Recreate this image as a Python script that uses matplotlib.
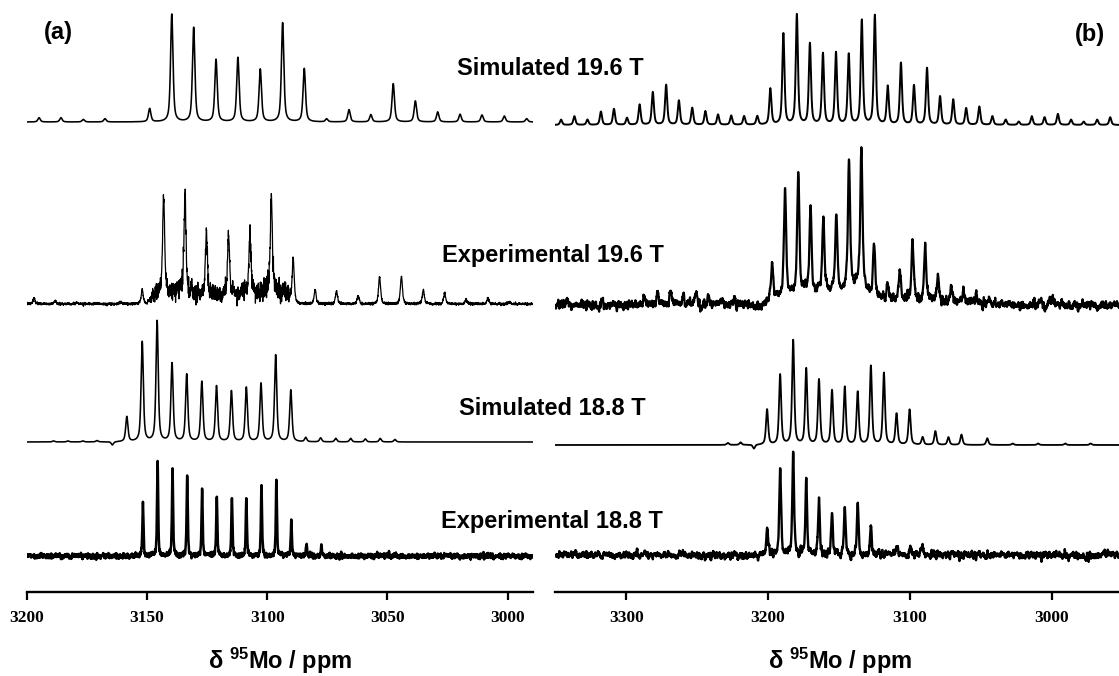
import numpy as np
import matplotlib
matplotlib.use("Agg")
import matplotlib.pyplot as plt

plt.rcParams['font.family'] = ['Liberation Sans', 'DejaVu Sans']
plt.rcParams['mathtext.fontset'] = 'custom'
plt.rcParams['mathtext.bf'] = 'Liberation Sans:bold'
plt.rcParams['mathtext.default'] = 'bf'

# ---------------- dados (ppm / intensidade relativa) ----------------
# (a) espectro esquerdo
a_sim196_ppm = [3194.9, 3185.8, 3176.5, 3167.5, 3148.9, 3139.7, 3130.6, 3121.3, 3112.2, 3102.9,
                3093.6, 3084.6, 3075.3, 3066.0, 3056.9, 3047.6, 3038.4, 3029.1, 3019.8, 3010.7,
                3001.4, 2992.1]
a_sim196_int = [4.3, 4.3, 2.5, 3.3, 13.3, 107.7, 94.3, 62.3, 64.3, 52.7,
                99, 53.3, 3, 12.3, 7.3, 38.3, 21, 10, 7.7, 7,
                6, 3.3]

a_exp196_ppm = [3197.0, 3188.1, 3179.2, 3170.3, 3161.1, 3152.0, 3143.1, 3134.2, 3125.3, 3116.1,
                3107.2, 3098.3, 3089.2, 3080.1, 3071.2, 3062.2, 3053.3, 3044.2, 3035.1, 3026.2,
                3017.3, 3008.2, 2999.2]
a_exp196_int = [6, 3, 1, 1, 2, 14, 99, 94, 63, 61,
                61, 95, 45, 14, 13, 8, 27, 28, 14, 11,
                5, 6, 2]
# componente larga sob as bandas centrais
a_exp196_hump_ppm = [3150, 3147, 3141, 3136, 3130, 3115, 3105, 3099, 3092, 3089]
a_exp196_hump_int = [0, 9, 11, 14, 9, 9, 11, 15, 11, 0]

a_sim188_ppm = [3188.9, 3182.9, 3176.7, 3170.8, 3164.4, 3158.4, 3152.0, 3145.8, 3139.6, 3133.5,
                3127.2, 3121.1, 3114.9, 3108.7, 3102.6, 3096.5, 3090.2, 3084.0, 3077.8, 3071.5,
                3065.3, 3059.2, 3053.0, 3046.9]
a_sim188_int = [1, 1, 1, 1.3, -3.3, 25, 100, 120.7, 78.3, 67.3,
                60, 55.7, 50.7, 54.3, 58.3, 86.7, 51.7, 4.3, 4, 3.5,
                3.5, 3, 3.5, 2.5]

a_exp188_ppm = [3151.7, 3145.6, 3139.4, 3133.3, 3127.1, 3121.0, 3114.7, 3108.7, 3102.4, 3096.2,
                3090.0, 3083.7, 3077.5]
a_exp188_int = [51.7, 96.7, 87.7, 82, 68.3, 57.7, 57.7, 58.7, 71.7, 76,
                35, 12, 10]

# (b) espectro direito
b_sim196_ppm = [3346.0, 3336.6, 3327.4, 3317.9, 3308.7, 3299.5, 3290.6, 3281.3, 3271.9, 3262.9,
                3253.5, 3244.2, 3235.3, 3226.0, 3216.9, 3207.6, 3198.4, 3189.2, 3179.7, 3170.5,
                3161.3, 3152.1, 3143.1, 3133.9, 3124.7, 3115.6, 3106.3, 3097.1, 3087.9, 3078.7,
                3069.4, 3060.3, 3051.0, 3041.8, 3032.4, 3023.2, 3014.0, 3005.0, 2995.6, 2986.3,
                2977.4, 2967.9, 2958.7]
b_sim196_int = [5.3, 8.7, 5.3, 13.3, 16, 7, 20.3, 32.7, 40, 24.3,
                17, 13.7, 10.3, 9.3, 8.7, 8.7, 36, 91, 110, 81,
                71, 72, 70.3, 104.3, 109.3, 38.3, 61.7, 39.3, 56.7, 28.3,
                25.3, 16.7, 18.3, 8.7, 5.3, 3.3, 8.7, 7.7, 11, 5.3,
                3.3, 5.3, 7.7]

b_exp196_ppm = [3341.0, 3287.2, 3277.7, 3268.8, 3259.8, 3250.9, 3241.9, 3233.0, 3224.0, 3215.0,
                3197.1, 3188.0, 3178.7, 3170.1, 3161.0, 3151.9, 3142.9, 3134.2, 3125.2, 3115.8,
                3107.1, 3098.1, 3089.2, 3080.2, 3071.0, 3062.0, 3053.1, 3044.1, 3035.2, 3008.3,
                2999.4]
b_exp196_int = [4, 8, 11, 15, 10, 12, 7, 7, 4, 2,
                32, 106.7, 123, 84, 76.3, 76.7, 126.3, 143, 53, 13,
                29.3, 59, 53.7, 27.7, 16.3, 11.3, 8, 7.3, 3.3, 5,
                6.7]
b_exp196_hump_ppm = [3215, 3205, 3199, 3190, 3175, 3160, 3145, 3136, 3131, 3124, 3110, 3090, 3060, 3040]
b_exp196_hump_int = [0, -3, 7, 9, 11, 13, 16, 18, 14, 7, 5, 4, 2, 0]

b_sim188_ppm = [3228.4, 3219.4, 3210.0, 3200.7, 3191.5, 3182.3, 3173.1, 3164.1, 3154.9, 3145.9,
                3136.8, 3127.5, 3118.3, 3109.4, 3100.2, 3091.0, 3082.0, 3072.8, 3063.6, 3045.4,
                3027.5, 3009.6, 2990.4, 2972.5]
b_sim188_int = [2, 2.5, -4, 35.3, 70, 104.3, 76, 65, 54.3, 57.7,
                52.7, 78.7, 71.7, 31, 35.3, 7.7, 13.7, 7.7, 10.3, 6.7,
                1.5, 1.5, 1.5, 1.5]

b_exp188_ppm = [3200.7, 3191.5, 3182.3, 3173.1, 3164.1, 3154.9, 3145.9, 3136.8, 3127.5, 3108.9,
                3099.7, 3091.0]
b_exp188_int = [26.7, 88.3, 104, 73.3, 55, 41.7, 45.7, 53.3, 29, 8,
                7, 7]

labels = ["Simulated 19.6 T", "Experimental 19.6 T", "Simulated 18.8 T", "Experimental 18.8 T"]

# ---------------- funções auxiliares ----------------
rng = np.random.default_rng(3)  # só para a textura de ruído dos espectros experimentais


def linhas(x, centros, alturas, hw, eta=0.6):
    d = (x[:, None] - np.asarray(centros)[None, :]) / hw
    forma = eta / (1 + d ** 2) + (1 - eta) * np.exp(-np.log(2) * d ** 2)
    return (forma * np.asarray(alturas)[None, :]).sum(axis=1)


def ruido(n, suave):
    w = rng.standard_normal(n + 4 * suave)
    s = np.convolve(w, np.ones(suave) / suave, mode='same')[2 * suave:2 * suave + n]
    return s / s.std()


W, H = 1119, 676
fig = plt.figure(figsize=(W / 100, H / 100), dpi=100)
axA = fig.add_axes([26.8 / W, 1 - 592 / H, (532.7 - 26.8) / W, 592 / H])
axB = fig.add_axes([555.4 / W, 1 - 592 / H, (1119 - 555.4) / W, 592 / H])

# ---- painel (a) ----
xa = np.linspace(3200, 2989.6, 5000)
y = 470 + linhas(xa, a_sim196_ppm, a_sim196_int, 0.6)
axA.plot(xa, y, color='black', lw=1.15)

hump = np.interp(xa[::-1], a_exp196_hump_ppm[::-1], a_exp196_hump_int[::-1])[::-1]
y = 288 + linhas(xa, a_exp196_ppm, a_exp196_int, 0.5) + hump
y += ruido(len(xa), 2) * (0.6 + 0.35 * hump)
axA.plot(xa, y, color='black', lw=0.9)

y = 150 + linhas(xa, a_sim188_ppm, a_sim188_int, 0.55)
axA.plot(xa, y, color='black', lw=1.15)

y = 36 + linhas(xa, a_exp188_ppm, a_exp188_int, 0.28) + ruido(len(xa), 4) * 1.2
axA.plot(xa, y, color='black', lw=1.8)

axA.set_xlim(3200, 2989.6)
axA.set_xticks([3200, 3150, 3100, 3050, 3000])

# ---- painel (b) ----
xb = np.linspace(3350, 2952.5, 5000)
y = 467 + linhas(xb, b_sim196_ppm, b_sim196_int, 0.9)
axB.plot(xb, y, color='black', lw=1.4)

hump = np.interp(xb[::-1], b_exp196_hump_ppm[::-1], b_exp196_hump_int[::-1])[::-1]
y = 287 + linhas(xb, b_exp196_ppm, b_exp196_int, 0.9) + hump + ruido(len(xb), 8) * 2.2
axB.plot(xb, y, color='black', lw=1.6)

y = 147 + linhas(xb, b_sim188_ppm, b_sim188_int, 0.9)
axB.plot(xb, y, color='black', lw=1.3)

y = 37 + linhas(xb, b_exp188_ppm, b_exp188_int, 0.7) + ruido(len(xb), 8) * 1.9
axB.plot(xb, y, color='black', lw=1.7)

axB.set_xlim(3350, 2952.5)
axB.set_xticks([3300, 3200, 3100, 3000])

for ax in (axA, axB):
    ax.set_ylim(0, 592)
    ax.set_yticks([])
    for s in ('top', 'left', 'right'):
        ax.spines[s].set_visible(False)
    ax.spines['bottom'].set_linewidth(1.7)
    ax.tick_params(axis='x', direction='out', length=6, width=1.6, pad=7)
    for t in ax.get_xticklabels():
        t.set_fontfamily('Liberation Serif')
        t.set_fontweight('bold')
        t.set_fontsize(12.5)
    ax.patch.set_visible(False)

# ---- textos ----
def px(x, y):
    return x / W, 1 - y / H

kw = dict(ha='center', va='baseline', fontsize=17, fontweight='bold')
fig.text(*px(550, 75), labels[0], **kw)
fig.text(*px(553, 262), labels[1], **kw)
fig.text(*px(552, 415), labels[2], **kw)
fig.text(*px(552, 528), labels[3], **kw)

fig.text(*px(58, 33), "(a)", ha='center', va='center', fontsize=17, fontweight='bold')
fig.text(*px(1090, 34), "(b)", ha='center', va='center', fontsize=17, fontweight='bold')

xl = "δ $^{95}$Mo / ppm"
fig.text(*px(280, 669), xl, ha='center', va='baseline', fontsize=17, fontweight='bold')
fig.text(*px(840, 669), xl, ha='center', va='baseline', fontsize=17, fontweight='bold')

fig.savefig("out.png", dpi=100)
